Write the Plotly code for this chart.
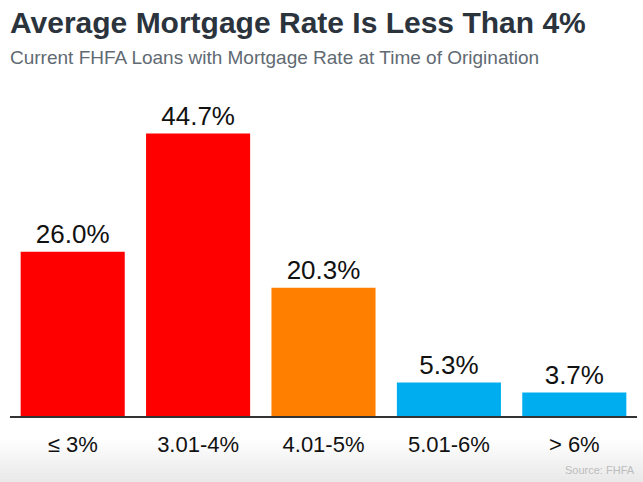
import plotly.graph_objects as go

categories = ["≤ 3%", "3.01-4%", "4.01-5%", "5.01-6%", "> 6%"]
values = [26.0, 44.7, 20.3, 5.3, 3.7]
labels = ["26.0%", "44.7%", "20.3%", "5.3%", "3.7%"]
colors = ["#ff0000", "#ff0000", "#ff7f00", "#00aeef", "#00aeef"]

title = "Average Mortgage Rate Is Less Than 4%"
subtitle = "Current FHFA Loans with Mortgage Rate at Time of Origination"
source = "Source: FHFA"

W, H = 643, 482
FONT = "Liberation Sans"

fig = go.Figure()
fig.add_trace(go.Bar(
    x=categories, y=values, text=labels, textposition="outside",
    textfont=dict(size=26, color="#111111", family=FONT),
    marker=dict(color=colors, line=dict(width=0)),
    cliponaxis=False, hoverinfo="skip",
))

# bottom gradient band
PLOT_TOP, PLOT_BOT = 100, 416
ph = PLOT_BOT - PLOT_TOP
shapes = []
n = 14
top, bot = 440, 482
for i in range(n):
    y0 = top + (bot - top) * i / n
    y1 = top + (bot - top) * (i + 1) / n
    g = int(round(255 - (255 - 233) * (i + 1) / n))
    shapes.append(dict(type="rect", xref="paper", yref="paper",
                       x0=-0.05, x1=1.05,
                       y0=-(y1 - PLOT_BOT) / ph, y1=-(y0 - PLOT_BOT) / ph,
                       fillcolor=f"rgb({g},{g},{g})", line=dict(width=0),
                       layer="below"))

fig.update_layout(
    width=W, height=H,
    margin=dict(l=10, r=6, t=PLOT_TOP, b=H - PLOT_BOT),
    paper_bgcolor="white", plot_bgcolor="white",
    bargap=0.17,
    showlegend=False,
    shapes=shapes,
    font=dict(family=FONT),
    xaxis=dict(showline=True, linecolor="#333333", linewidth=1.5,
               ticks="", tickfont=dict(size=22, color="#111111", family=FONT),
               ticklabelstandoff=8, fixedrange=True),
    yaxis=dict(range=[0, 50], visible=False, fixedrange=True),
    annotations=[
        dict(text=f"<b>{title}</b>", xref="paper", yref="paper", x=-0.003, y=1.0,
             yshift=PLOT_TOP - 4, xanchor="left", yanchor="top", showarrow=False,
             font=dict(size=30, color="#2b333d", family=FONT)),
        dict(text=subtitle, xref="paper", yref="paper", x=-0.003, y=1.0,
             yshift=PLOT_TOP - 45, xanchor="left", yanchor="top", showarrow=False,
             font=dict(size=19, color="#5f6a72", family=FONT)),
        dict(text=source, xref="paper", yref="paper", x=1.0, y=0,
             yshift=-46, xanchor="right", yanchor="top", showarrow=False,
             font=dict(size=11, color="#bcbcbc", family=FONT)),
    ],
)

fig.write_html("out.html", config={"displayModeBar": False},
               post_script="document.body.style.margin='0';")
